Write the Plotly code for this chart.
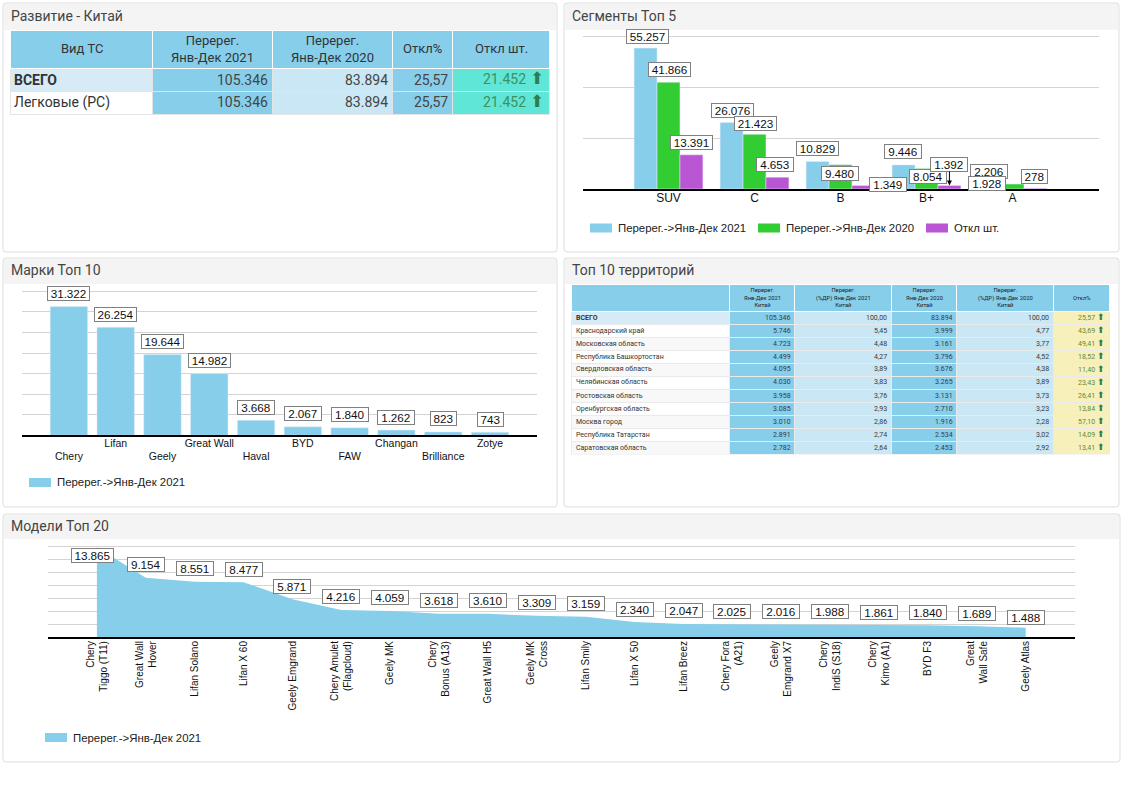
import plotly.graph_objects as go

W = 1122
H = 793

# --- data ---
segments = ['SUV', 'C', 'B', 'B+', 'A']
seg_2021 = [55257, 26076, 10829, 9446, 2206]
seg_2020 = [41866, 21423, 9480, 8054, 1928]
seg_diff = [13391, 4653, 1349, 1392, 278]
seg_series_names = ['Перерег.->Янв-Дек 2021', 'Перерег.->Янв-Дек 2020', 'Откл шт.']

brands = ['Chery', 'Lifan', 'Geely', 'Great Wall', 'Haval', 'BYD', 'FAW', 'Changan', 'Brilliance', 'Zotye']
brand_values = [31322, 26254, 19644, 14982, 3668, 2067, 1840, 1262, 823, 743]

models = ['Chery<br>Tiggo (T11)', 'Great Wall<br>Hover', 'Lifan Solano', 'Lifan X 60', 'Geely Emgrand',
          'Chery Amulet<br>(Flagcloud)', 'Geely MK', 'Chery<br>Bonus (A13)', 'Great Wall H5', 'Geely MK<br>Cross',
          'Lifan Smily', 'Lifan X 50', 'Lifan Breez', 'Chery Fora<br>(A21)', 'Geely<br>Emgrand X7',
          'Chery<br>IndiS (S18)', 'Chery<br>Kimo (A1)', 'BYD F3', 'Great<br>Wall Safe', 'Geely Atlas']
model_values = [13865, 9154, 8551, 8477, 5871, 4216, 4059, 3618, 3610, 3309,
                3159, 2340, 2047, 2025, 2016, 1988, 1861, 1840, 1689, 1488]

dev_header = ['Вид ТС', 'Перерег.<br>Янв-Дек 2021', 'Перерег.<br>Янв-Дек 2020', 'Откл%', 'Откл шт.']
dev_types = ['ВСЕГО', 'Легковые (PC)']
dev_2021 = ['105.346', '105.346']
dev_2020 = ['83.894', '83.894']
dev_pct = ['25,57', '25,57']
dev_diff = ['21.452', '21.452']

terr_header = ['', 'Перерег.<br>Янв-Дек 2021<br>Китай', 'Перерег.<br>(%ДР) Янв-Дек 2021<br>Китай',
               'Перерег.<br>Янв-Дек 2020<br>Китай', 'Перерег.<br>(%ДР) Янв-Дек 2020<br>Китай', 'Откл%']
territories = ['ВСЕГО', 'Краснодарский край', 'Московская область', 'Республика Башкортостан',
               'Свердловская область', 'Челябинская область', 'Ростовская область', 'Оренбургская область',
               'Москва город', 'Республика Татарстан', 'Саратовская область']
terr_2021 = ['105.346', '5.746', '4.723', '4.499', '4.095', '4.030', '3.958', '3.085', '3.010', '2.891', '2.782']
terr_2021_share = ['100,00', '5,45', '4,48', '4,27', '3,89', '3,83', '3,76', '2,93', '2,86', '2,74', '2,64']
terr_2020 = ['83.894', '3.999', '3.161', '3.796', '3.676', '3.265', '3.131', '2.710', '1.916', '2.534', '2.453']
terr_2020_share = ['100,00', '4,77', '3,77', '4,52', '4,38', '3,89', '3,73', '3,23', '2,28', '3,02', '2,92']
terr_pct = ['25,57', '43,69', '49,41', '18,52', '11,40', '23,43', '26,41', '13,84', '57,10', '14,09', '13,41']

# --- colours ---
BLUE = '#87CEEB'
GREEN = '#32CD32'
PURPLE = '#BA55D3'
PALE = '#C9E7F4'
TOTAL = '#D6EBF5'
TEAL = '#5FE6D6'
YELLOW = '#F7F0BB'
ARIAL = 'Liberation Sans'
ROBOTO = 'Roboto'


def fx(x):
    return x / W


def fy(y):
    return 1 - y / H


def fmt(v):
    return f'{v:,}'.replace(',', '.')


shapes = []
annotations = []


def panel(x0, y0, x1, y1, head, title):
    r = 3
    body = (f'M{fx(x0 + r)},{fy(y0)} L{fx(x1 - r)},{fy(y0)} Q{fx(x1)},{fy(y0)} {fx(x1)},{fy(y0 + r)} '
            f'L{fx(x1)},{fy(y1 - r)} Q{fx(x1)},{fy(y1)} {fx(x1 - r)},{fy(y1)} '
            f'L{fx(x0 + r)},{fy(y1)} Q{fx(x0)},{fy(y1)} {fx(x0)},{fy(y1 - r)} '
            f'L{fx(x0)},{fy(y0 + r)} Q{fx(x0)},{fy(y0)} {fx(x0 + r)},{fy(y0)} Z')
    shapes.append(dict(type='path', path=body, xref='paper', yref='paper', fillcolor='white',
                       line=dict(color='#DDDDDD', width=1), layer='below'))
    shapes.append(dict(type='rect', xref='paper', yref='paper', x0=fx(x0 + 1), x1=fx(x1 - 1), y0=fy(y0 + 1), y1=fy(head),
                       fillcolor='#F4F4F4', line=dict(width=0), layer='below'))
    annotations.append(dict(xref='paper', yref='paper', x=fx(x0 + 7), y=fy((y0 + head) / 2 - 0.5), text=title, showarrow=False,
                            xanchor='left', yanchor='middle', borderpad=0,
                            font=dict(family=ROBOTO, size=14, color='#444444')))


def legend_item(x, y, color, text):
    shapes.append(dict(type='rect', xref='paper', yref='paper', x0=fx(x), x1=fx(x + 22), y0=fy(y - 4.5), y1=fy(y + 4.5),
                       fillcolor=color, line=dict(width=0)))
    annotations.append(dict(xref='paper', yref='paper', x=fx(x + 27), y=fy(y), text=text, showarrow=False,
                            xanchor='left', yanchor='middle', borderpad=0,
                            font=dict(family=ARIAL, size=11.4, color='#222222')))


def value_label(xref, yref, x, value, dx=0, up=13, arrow=None):
    text = fmt(value)
    a = dict(xref=xref, yref=yref, x=x, y=value, text=text, xanchor='center', yanchor='middle',
             width=5.5 * len(text) + 8, height=13, align='center', bgcolor='white', bordercolor='#808080',
             borderwidth=1, borderpad=0, font=dict(family=ARIAL, size=11.7, color='#111111'))
    if arrow:
        a.update(showarrow=True, ax=0, ay=-arrow, arrowhead=2, arrowsize=1, arrowwidth=1, arrowcolor='black')
    else:
        a.update(showarrow=False, xshift=dx, yshift=up)
    annotations.append(a)


def cell_text(x, y, text, anchor='right', size=14, color='#444444', bold=False):
    annotations.append(dict(xref='paper', yref='paper', x=fx(x), y=fy(y), text=f'<b>{text}</b>' if bold else text,
                            showarrow=False, xanchor=anchor, yanchor='middle', borderpad=0, align='center',
                            font=dict(family=ROBOTO, size=size, color=color)))


def y_axis(base, top, rmax, step):
    # top gridline sits on the range end, plotly clips it there, so pad the axis by a pixel and a half
    pad = 1.5
    return dict(domain=[fy(base), fy(top - pad)], range=[0, rmax * (base - top + pad) / (base - top)], dtick=step)


panel(3, 3, 557, 252, 30, 'Развитие - Китай')
panel(564, 3, 1119, 252, 30, 'Сегменты Топ 5')
panel(3, 258, 557, 507, 284, 'Марки Топ 10')
panel(564, 258, 1119, 507, 284, 'Топ 10 территорий')
panel(3, 514, 1120, 762, 539, 'Модели Топ 20')

fig = go.Figure()

# --- table: развитие ---
dev_edges = [10.5, 152.5, 272.5, 392.5, 452.5, 550]
dev_rows = [30, 68, 91, 114]
fig.add_trace(go.Table(
    domain=dict(x=[fx(dev_edges[0]), fx(dev_edges[-1])], y=[fy(dev_rows[-1] + 1), fy(dev_rows[0])]),
    columnwidth=[b - a for a, b in zip(dev_edges, dev_edges[1:])],
    header=dict(values=[''] * 5, height=38, fill_color=BLUE, line=dict(color='white', width=1)),
    cells=dict(values=[[''] * 2] * 5, height=23, line=dict(color='#E4E4E4', width=1),
               fill_color=[[TOTAL, 'white'], [BLUE] * 2, [PALE] * 2, [BLUE] * 2, [TEAL] * 2]),
))
for i, label in enumerate(dev_header):
    cell_text((dev_edges[i] + dev_edges[i + 1]) / 2, (dev_rows[0] + dev_rows[1]) / 2, label, 'center', 13, '#333333')
for r in range(2):
    yc = (dev_rows[r + 1] + dev_rows[r + 2]) / 2
    cell_text(dev_edges[0] + 2.5, yc, dev_types[r], 'left', 14, '#333333', bold=r == 0)
    cell_text(dev_edges[2] - 4, yc, dev_2021[r])
    cell_text(dev_edges[3] - 4, yc, dev_2020[r])
    cell_text(dev_edges[4] - 4, yc, dev_pct[r])
    # the bigger arrow makes the text box taller, lift it back onto the row
    cell_text(dev_edges[5] - 5, yc - 1.5, f"{dev_diff[r]} <span style='color:#2E7D4F;font-size:17px'>⬆</span>", color='#3F8F5F')

# --- table: территории ---
terr_edges = [571.5, 730, 795, 891.5, 957, 1053.5, 1110]
terr_top = 284.5
terr_head = 26.5
terr_row = 13
n_terr = len(territories)
stripe = [TOTAL] + ['white' if i % 2 == 0 else '#F8F8F8' for i in range(n_terr - 1)]
fig.add_trace(go.Table(
    domain=dict(x=[fx(terr_edges[0]), fx(terr_edges[-1])],
                y=[fy(terr_top + terr_head + terr_row * n_terr + 1), fy(terr_top)]),
    columnwidth=[b - a for a, b in zip(terr_edges, terr_edges[1:])],
    header=dict(values=[''] * 6, height=terr_head, fill_color=BLUE, line=dict(color='white', width=1)),
    cells=dict(values=[[''] * n_terr] * 6, height=terr_row, line=dict(color='#EAEAEA', width=1),
               fill_color=[stripe, [BLUE] * n_terr, [PALE] * n_terr, [BLUE] * n_terr, [PALE] * n_terr, [YELLOW] * n_terr]),
))
for i, label in enumerate(terr_header):
    if label:
        cell_text((terr_edges[i] + terr_edges[i + 1]) / 2, terr_top + terr_head / 2, label, 'center', 5.8, '#222222')
terr_cols = [terr_2021, terr_2021_share, terr_2020, terr_2020_share]
for r in range(n_terr):
    yc = terr_top + terr_head + terr_row * (r + 0.5)
    cell_text(terr_edges[0] + 3, yc, territories[r], 'left', 7, '#333333', bold=r == 0)
    for c, col in enumerate(terr_cols):
        cell_text(terr_edges[c + 2] - 3.5, yc, col[r], size=7, color='#3A3A3A')
    cell_text(terr_edges[6] - 4, yc - 0.7, f"{terr_pct[r]} <span style='color:#2E7D4F;font-size:9px'>⬆</span>", size=7, color='#5F8A34')

# --- сегменты ---
fig.add_trace(go.Bar(x=segments, y=seg_2021, marker_color=BLUE, xaxis='x', yaxis='y', name=seg_series_names[0]))
fig.add_trace(go.Bar(x=segments, y=seg_2020, marker_color=GREEN, xaxis='x', yaxis='y', name=seg_series_names[1]))
fig.add_trace(go.Bar(x=segments, y=seg_diff, marker_color=PURPLE, xaxis='x', yaxis='y', name=seg_series_names[2]))

seg_shift_2021 = [(1.5, 12), (0.5, 12.5), (0, 12.4), (-0.5, 13), (-0.5, 12)]
seg_shift_2020 = [(1, 13), (0.5, 10.4), (-0.5, -8.2), (1.5, -8.5), (-25.5, 1)]
seg_shift_diff = [(0.5, 12), (-2.5, 13), (24.5, 0.6), None, (-1, 12)]
bar_step = 0.8 / 3
for c in range(5):
    value_label('x', 'y', c - bar_step, seg_2021[c], *seg_shift_2021[c])
    value_label('x', 'y', c, seg_2020[c], *seg_shift_2020[c])
    if seg_shift_diff[c]:
        value_label('x', 'y', c + bar_step, seg_diff[c], *seg_shift_diff[c])
    else:
        value_label('x', 'y', c + bar_step, seg_diff[c], arrow=21)

legend_item(590, 228, BLUE, seg_series_names[0])
legend_item(758, 228, GREEN, seg_series_names[1])
legend_item(926, 228, PURPLE, seg_series_names[2])

# --- марки ---
fig.add_trace(go.Bar(x=brands, y=brand_values, marker_color=BLUE, xaxis='x2', yaxis='y2', name=seg_series_names[0]))
for i, v in enumerate(brand_values):
    value_label('x2', 'y2', i, v)
legend_item(29, 482.5, BLUE, seg_series_names[0])

# --- модели ---
fig.add_trace(go.Scatter(x=models, y=model_values, mode='lines', fill='tozeroy', fillcolor=BLUE,
                         line=dict(color=BLUE, width=0), xaxis='x3', yaxis='y3', name=seg_series_names[0]))
for i, v in enumerate(model_values):
    if i == 0:
        value_label('x3', 'y3', i, v, -4.5, -8)
    elif i == len(model_values) - 1:
        value_label('x3', 'y3', i, v, 0, 10)
    else:
        value_label('x3', 'y3', i, v)
legend_item(45, 737.5, BLUE, seg_series_names[0])

common_x = dict(type='category', showgrid=False, showline=True, linecolor='black', linewidth=1.5, ticks='',
                zeroline=False, tickfont=dict(family=ARIAL, size=12, color='#111111'), fixedrange=True)
common_y = dict(showgrid=True, gridcolor='#D3D3D3', gridwidth=1, showticklabels=False, ticks='',
                zeroline=False, showline=False, fixedrange=True)

fig.update_layout(
    width=W, height=H, margin=dict(l=0, r=0, t=0, b=0), paper_bgcolor='white', plot_bgcolor='rgba(0,0,0,0)',
    showlegend=False, barmode='group', bargap=0.2, bargroupgap=0, shapes=shapes, annotations=annotations,
    xaxis=dict(common_x, domain=[fx(582.5), fx(1098.5)], anchor='y', range=[-1, 5], ticklabelstandoff=-3),
    yaxis=dict(common_y, anchor='x', **y_axis(189, 36, 60000, 20000)),
    xaxis2=dict(common_x, domain=[fx(22.1), fx(536.8)], anchor='y2', range=[-1, 10], tickangle=0,
                tickmode='array', tickvals=brands, ticklabelstandoff=-3,
                ticktext=[b if i % 2 else f' <br>{b}' for i, b in enumerate(brands)],
                tickfont=dict(family=ARIAL, size=10.5, color='#111111')),
    yaxis2=dict(common_y, anchor='x2', **y_axis(435.3, 291.3, 35000, 5000)),
    xaxis3=dict(common_x, domain=[fx(48), fx(1074.6)], anchor='y3', range=[-1, 20], tickangle=-90,
                ticklabelstandoff=-2, tickfont=dict(family=ARIAL, size=10, color='#111111')),
    yaxis3=dict(common_y, anchor='x3', **y_axis(637.3, 546.3, 14000, 2000)),
)

fig.write_html('out.html', post_script="document.body.style.margin='0';", config=dict(displayModeBar=False))
